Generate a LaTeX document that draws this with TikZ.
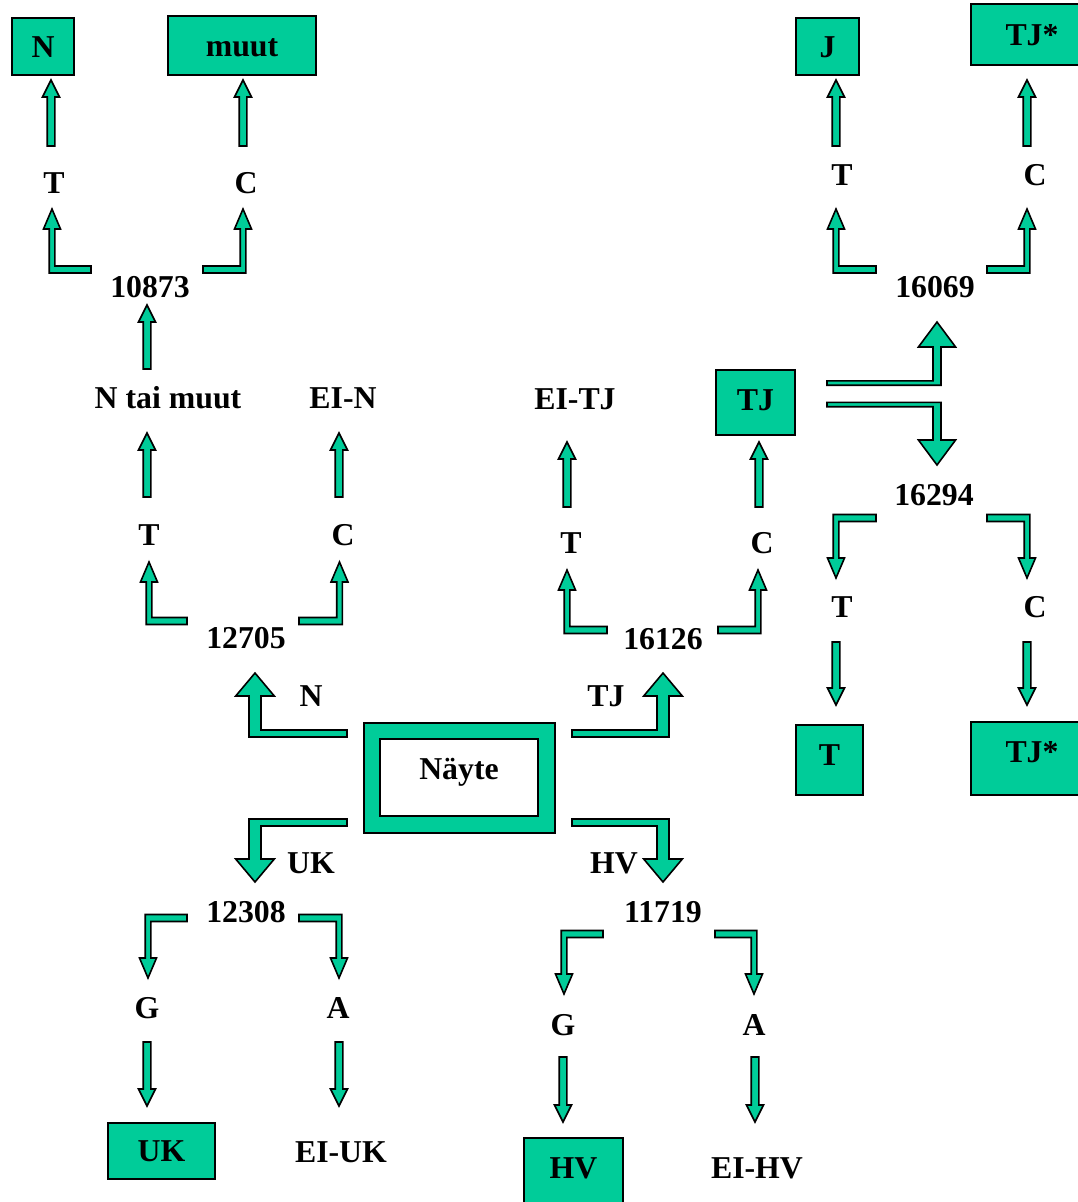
\documentclass[tikz,border=0pt]{standalone}
\usepackage{fontspec}
\setmainfont{Liberation Serif}
\definecolor{boxteal}{RGB}{0,204,153}
\tikzset{
  blockarrow/.style={fill=boxteal, draw=black, line width=1.6pt, line join=miter},
  lbl/.style={font=\fontsize{31.8}{36}\selectfont\bfseries, inner sep=0pt, anchor=base},
  boxed/.style={fill=boxteal, draw=black, line width=2pt, inner sep=0pt,
    font=\fontsize{31.8}{36}\selectfont\bfseries, text height=21pt, text depth=0pt},
}
% arrow dimensions: vertical shaft half, horizontal shaft half, head half, head length
\newcommand{\ArrSize}[4]{\def\Awv{#1}\def\Awh{#2}\def\Ahh{#3}\def\All{#4}}
% straight vertical block arrow: x, y start, y tip
\newcommand{\StraightArr}[3]{%
  \pgfmathsetmacro{\Abb}{abs(#2-#3)}%
  \pgfmathsetmacro{\Asy}{sign(#2-#3)}%
  \begin{scope}[shift={(#1,#2)},yscale=\Asy]
    \draw[blockarrow] (-\Awv,0) -- (-\Awv,-\Abb+\All) -- (-\Ahh,-\Abb+\All) -- (0,-\Abb)
      -- (\Ahh,-\Abb+\All) -- (\Awv,-\Abb+\All) -- (\Awv,0) -- cycle;
  \end{scope}}
% bent block arrow: tail x, tail y, corner x, tip y
\newcommand{\BentArr}[4]{%
  \pgfmathsetmacro{\Aaa}{abs(#1-#3)}%
  \pgfmathsetmacro{\Abb}{abs(#2-#4)}%
  \pgfmathsetmacro{\Asx}{sign(#1-#3)}%
  \pgfmathsetmacro{\Asy}{sign(#2-#4)}%
  \begin{scope}[shift={(#3,#2)},xscale=\Asx,yscale=\Asy]
    \draw[blockarrow] (\Aaa,-\Awh) -- (\Awv,-\Awh) -- (\Awv,-\Abb+\All) -- (\Ahh,-\Abb+\All)
      -- (0,-\Abb) -- (-\Ahh,-\Abb+\All) -- (-\Awv,-\Abb+\All) -- (-\Awv,\Awh) -- (\Aaa,\Awh) -- cycle;
  \end{scope}}
\begin{document}
\begin{tikzpicture}[x=1pt,y=-1pt]
\useasboundingbox (0,0) rectangle (1078,1202);

% ---------- boxes ----------
\node[boxed, minimum width=62pt, minimum height=57pt] (boxN) at (43,46.5) {N};
\node[boxed, minimum width=148pt, minimum height=59pt] (boxMuut) at (242,45.5) {muut};
\node[boxed, minimum width=63pt, minimum height=57pt] (boxJ) at (827.5,46.5) {J};
\node[boxed, minimum width=122pt, minimum height=61pt] (boxTJtop) at (1032,34.5) {TJ*};
\node[boxed, minimum width=79pt, minimum height=65pt, text depth=5pt] (boxTJ) at (755.5,402.5) {TJ};
\node[boxed, minimum width=67pt, minimum height=70pt, text depth=10.5pt] (boxT) at (829.5,760) {T};
\node[boxed, minimum width=122pt, minimum height=73pt, text depth=13.5pt] (boxTJbot) at (1032,758.5) {TJ*};
\node[boxed, minimum width=107pt, minimum height=56pt] (boxUK) at (161.5,1151) {UK};
\node[boxed, minimum width=99pt, minimum height=73pt, text depth=13.5pt] (boxHV) at (573.5,1174.5) {HV};

% Näyte frame
\node[fill=boxteal, draw=black, line width=1.6pt, minimum width=191pt, minimum height=110pt, inner sep=0pt] (frame) at (459.5,778) {};
\node[fill=white, draw=black, line width=1.6pt, minimum width=158pt, minimum height=77pt, inner sep=0pt,
      font=\fontsize{31.8}{36}\selectfont\bfseries, text height=21pt, text depth=18pt] (nayte) at (459,777.5) {Näyte};

% ---------- labels ----------
\node[lbl] (tT1) at (54,193) {T};
\node[lbl] (tC1) at (246,193) {C};
\node[lbl] (n10873) at (150,297) {10873};
\node[lbl] (nNtm) at (168,408) {N tai muut};
\node[lbl] (nEIN) at (343,408) {EI-N};
\node[lbl] (tT2) at (149,545) {T};
\node[lbl] (tC2) at (343,545) {C};
\node[lbl] (n12705) at (246,648) {12705};
\node[lbl] (lN) at (311,706) {N};
\node[lbl] (lTJ) at (606,706) {TJ};
\node[lbl] (lUK) at (311,873) {UK};
\node[lbl] (lHV) at (614,873) {HV};
\node[lbl] (n12308) at (246,922) {12308};
\node[lbl] (tG1) at (147,1018) {G};
\node[lbl] (tA1) at (338,1018) {A};
\node[lbl] (nEIUK) at (341,1162) {EI-UK};
\node[lbl] (n11719) at (663,922) {11719};
\node[lbl] (tG2) at (563,1035) {G};
\node[lbl] (tA2) at (754,1035) {A};
\node[lbl] (nEIHV) at (757,1178) {EI-HV};
\node[lbl] (n16126) at (663,649) {16126};
\node[lbl] (tT3) at (571,553) {T};
\node[lbl] (tC3) at (762,553) {C};
\node[lbl] (nEITJ) at (575,409) {EI-TJ};
\node[lbl] (n16294) at (934,505) {16294};
\node[lbl] (tT4) at (842,617) {T};
\node[lbl] (tC4) at (1035,617) {C};
\node[lbl] (tT5) at (842,185) {T};
\node[lbl] (tC5) at (1035,185) {C};
\node[lbl] (n16069) at (935,297) {16069};

% ---------- straight arrows ----------
\ArrSize{3.8}{3.8}{8.5}{17}
\StraightArr{51}{146}{80}
\StraightArr{243}{146}{80}
\StraightArr{147}{369}{305}
\StraightArr{147}{497}{433}
\StraightArr{339}{497}{433}
\StraightArr{567}{507}{442}
\StraightArr{759}{507}{442}
\StraightArr{836}{146}{80}
\StraightArr{1027}{146}{80}
\StraightArr{836}{642}{705}
\StraightArr{1027}{642}{705}
\StraightArr{147}{1042}{1106}
\StraightArr{339}{1042}{1106}
\StraightArr{563}{1057}{1122}
\StraightArr{755}{1057}{1122}

% ---------- small bent arrows ----------
\ArrSize{2.8}{3.5}{8.5}{20}
\BentArr{91}{269.5}{52}{209}
\BentArr{203}{269.5}{243}{209}
\BentArr{187}{621}{149}{562}
\BentArr{299}{621}{339.5}{562}
\BentArr{607}{630}{567}{570}
\BentArr{718}{630}{758}{570}
\BentArr{876}{269.5}{836}{209}
\BentArr{987}{269.5}{1027}{209}
\BentArr{876}{518}{836}{578}
\BentArr{987}{518}{1027}{578}
\BentArr{187}{918}{148}{978}
\BentArr{299}{918}{339}{978}
\BentArr{603}{934}{564}{994}
\BentArr{715}{934}{754}{994}

% ---------- big bent arrows from Näyte ----------
\ArrSize{6}{3.5}{19.3}{23}
\BentArr{347}{733.5}{255}{673}
\BentArr{572}{733.5}{663}{673}
\BentArr{347}{822.5}{255}{882}
\BentArr{572}{822.5}{663}{882}

% ---------- big bent arrows from TJ ----------
\ArrSize{4}{2.2}{18.6}{25}
\BentArr{827}{383}{937}{322}
\BentArr{827}{404.5}{937}{465}
\end{tikzpicture}
\end{document}
